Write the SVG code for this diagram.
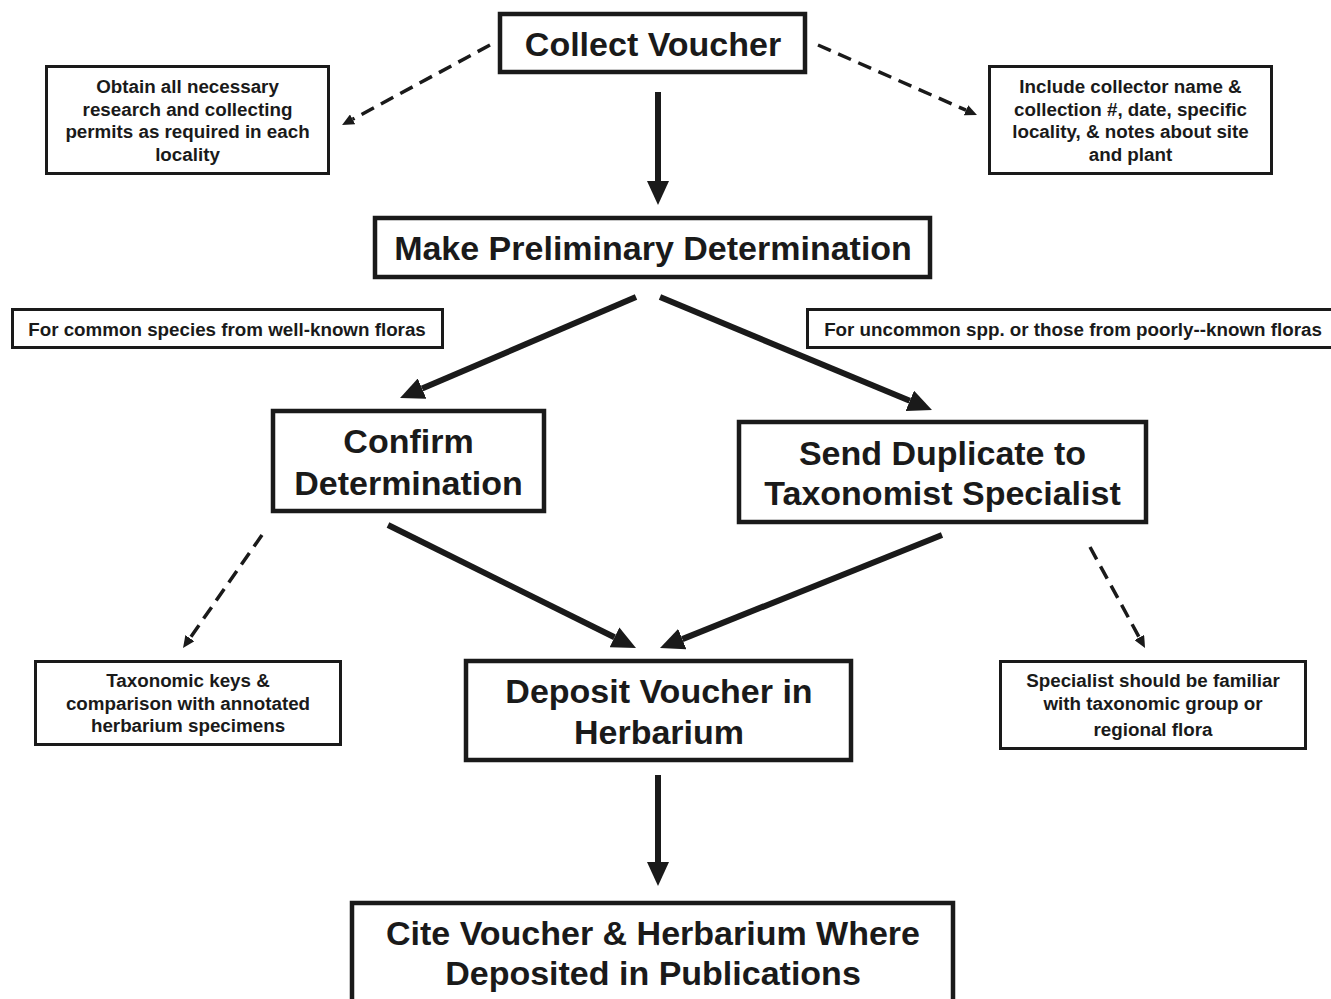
<svg xmlns="http://www.w3.org/2000/svg" width="1331" height="999" viewBox="0 0 1331 999">
<style>
.main{fill:#fff;stroke:#1a1a1a;stroke-width:4.5}
.note{fill:#fff;stroke:#1a1a1a;stroke-width:3}
.mt{font-family:"Liberation Sans",Arial,sans-serif;font-weight:bold;font-size:34px;fill:#1a1a1a;text-anchor:middle}
.st{font-family:"Liberation Sans",Arial,sans-serif;font-weight:bold;font-size:18.8px;fill:#1a1a1a;text-anchor:middle}
.solid{stroke:#1a1a1a;stroke-width:6;fill:none;marker-end:url(#hs)}
.dash{stroke:#1a1a1a;stroke-width:3.5;fill:none;stroke-dasharray:14 8;marker-end:url(#hd)}
</style>
<defs>
<marker id="hs" markerUnits="userSpaceOnUse" markerWidth="24" markerHeight="22" refX="0" refY="11" orient="auto"><path d="M0,0 L24,11 L0,22 z" fill="#1a1a1a"/></marker>
<marker id="hd" markerUnits="userSpaceOnUse" markerWidth="12" markerHeight="11" refX="0" refY="5.5" orient="auto"><path d="M0,0 L12,5.5 L0,11 z" fill="#1a1a1a"/></marker>
</defs>
<rect width="1331" height="999" fill="#fff"/>
<g id="connectors">
<line class="solid" x1="658" y1="92" x2="658" y2="181"/>
<line class="solid" x1="636" y1="297" x2="422.1" y2="388.6"/>
<line class="solid" x1="660" y1="297" x2="909.8" y2="400.8"/>
<line class="solid" x1="388" y1="525" x2="614.5" y2="637.3"/>
<line class="solid" x1="942" y1="535" x2="682.3" y2="639.1"/>
<line class="solid" x1="658" y1="775" x2="658" y2="862"/>
<line class="dash" x1="490" y1="45" x2="352.6" y2="119.3"/>
<line class="dash" x1="818" y1="45" x2="966" y2="110.2"/>
<line class="dash" x1="262" y1="535" x2="189.9" y2="638.2"/>
<line class="dash" x1="1090" y1="547" x2="1139.3" y2="637.5"/>
</g>
<g id="collect"><rect class="main" x="500" y="14" width="305" height="58"/><text class="mt" x="653" y="56">Collect Voucher</text></g>
<g id="permits"><rect class="note" x="46.5" y="66.5" width="282" height="107"/>
<text class="st" x="187.5" y="93">Obtain all necessary</text>
<text class="st" x="187.5" y="115.5">research and collecting</text>
<text class="st" x="187.5" y="138">permits as required in each</text>
<text class="st" x="187.5" y="160.5">locality</text></g>
<g id="include"><rect class="note" x="989.5" y="66.5" width="282" height="107"/>
<text class="st" x="1130.5" y="93">Include collector name &amp;</text>
<text class="st" x="1130.5" y="115.5">collection #, date, specific</text>
<text class="st" x="1130.5" y="138">locality, &amp; notes about site</text>
<text class="st" x="1130.5" y="160.5">and plant</text></g>
<g id="prelim"><rect class="main" x="375" y="218" width="555" height="59"/><text class="mt" x="653" y="260">Make Preliminary Determination</text></g>
<g id="common"><rect class="note" x="12.5" y="309.5" width="430" height="38"/><text class="st" x="227" y="335.5">For common species from well-known floras</text></g>
<g id="uncommon"><rect class="note" x="807.5" y="309.5" width="540" height="38"/><text class="st" x="1073" y="335.5">For uncommon spp. or those from poorly--known floras</text></g>
<g id="confirm"><rect class="main" x="273" y="411" width="271" height="100"/>
<text class="mt" x="408.5" y="453">Confirm</text><text class="mt" x="408.5" y="495">Determination</text></g>
<g id="send"><rect class="main" x="739" y="422" width="407" height="100"/>
<text class="mt" x="942.5" y="465">Send Duplicate to</text><text class="mt" x="942.5" y="505">Taxonomist Specialist</text></g>
<g id="keys"><rect class="note" x="35.5" y="661.5" width="305" height="83"/>
<text class="st" x="188" y="687">Taxonomic keys &amp;</text>
<text class="st" x="188" y="709.5">comparison with annotated</text>
<text class="st" x="188" y="732">herbarium specimens</text></g>
<g id="deposit"><rect class="main" x="466" y="661" width="385" height="99"/>
<text class="mt" x="659" y="703">Deposit Voucher in</text><text class="mt" x="659" y="744">Herbarium</text></g>
<g id="specialist"><rect class="note" x="1000.5" y="661.5" width="305" height="87"/>
<text class="st" x="1153" y="687">Specialist should be familiar</text>
<text class="st" x="1153" y="710">with taxonomic group or</text>
<text class="st" x="1153" y="736">regional flora</text></g>
<g id="cite"><rect class="main" x="352" y="903" width="601" height="110"/>
<text class="mt" x="653" y="945">Cite Voucher &amp; Herbarium Where</text><text class="mt" x="653" y="985">Deposited in Publications</text></g>
</svg>
